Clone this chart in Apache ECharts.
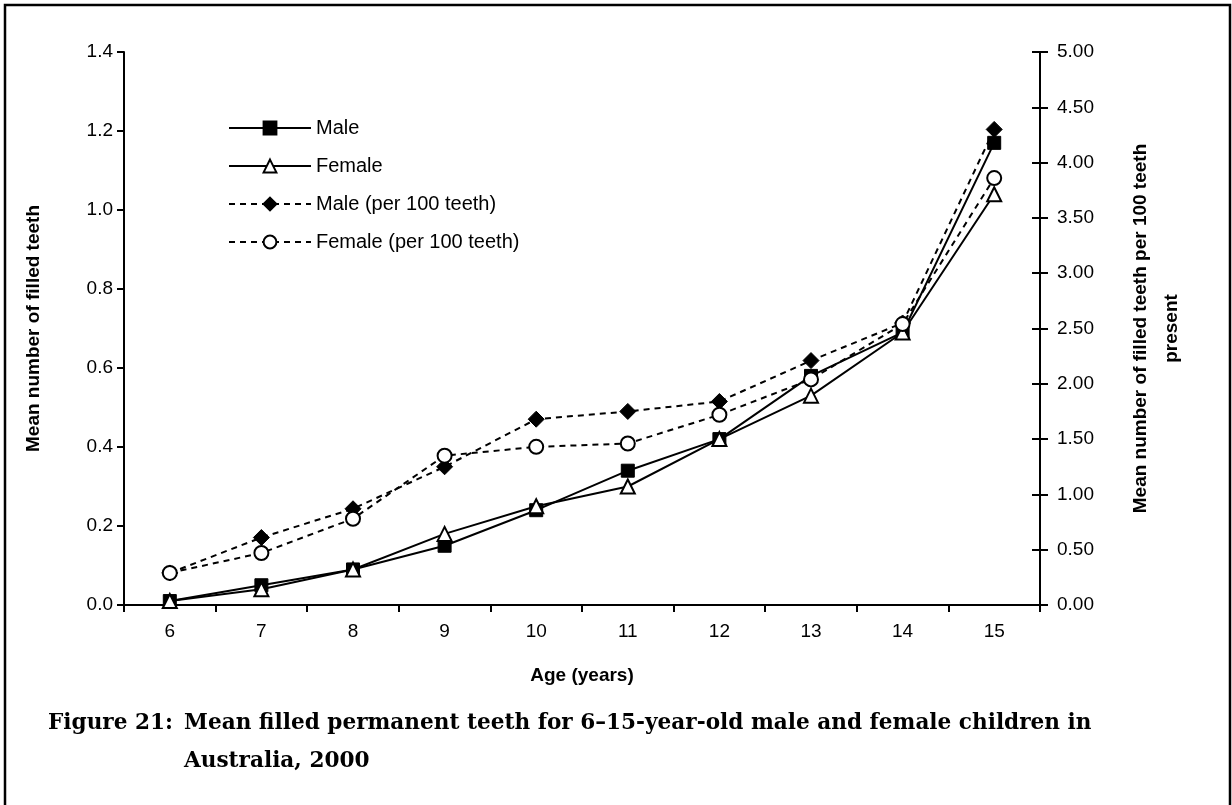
<!DOCTYPE html>
<html>
<head>
<meta charset="utf-8">
<script src="https://cdn.jsdelivr.net/npm/echarts@6/dist/echarts.min.js"></script>
<style>
  html, body { margin: 0; padding: 0; background: #fff; }
  #chart { width: 1232px; height: 805px; }
</style>
</head>
<body>
<div id="chart"></div>
<script>
// ages on the x axis
var ages = ['6', '7', '8', '9', '10', '11', '12', '13', '14', '15'];
// mean filled teeth (left axis)
var maleMean = [0.01, 0.05, 0.09, 0.15, 0.24, 0.34, 0.42, 0.58, 0.69, 1.17];
var femaleMean = [0.01, 0.04, 0.09, 0.18, 0.25, 0.30, 0.42, 0.53, 0.69, 1.04];
// mean filled teeth per 100 teeth present (right axis)
var malePer100 = [0.29, 0.61, 0.87, 1.25, 1.68, 1.75, 1.84, 2.21, 2.55, 4.30];
var femalePer100 = [0.29, 0.47, 0.78, 1.35, 1.43, 1.46, 1.72, 2.04, 2.54, 3.86];

var sans = '"Liberation Sans", Arial, sans-serif';
var serif = '"DejaVu Serif", serif';

var myChart = echarts.init(document.getElementById('chart'));
myChart.setOption({
  backgroundColor: '#fff',
  animation: false,
  grid: { left: 124, right: 192, top: 52, bottom: 200 },
  legend: {
    orient: 'vertical',
    left: 228,
    top: 118,
    padding: 0,
    itemWidth: 82,
    itemHeight: 16,
    itemGap: 18,
    textStyle: { fontFamily: sans, fontSize: 20, color: '#000' },
    data: ['Male', 'Female', 'Male (per 100 teeth)', 'Female (per 100 teeth)']
  },
  xAxis: {
    type: 'category',
    data: ages,
    boundaryGap: true,
    name: 'Age (years)',
    nameLocation: 'middle',
    nameGap: 61,
    nameTextStyle: { fontFamily: sans, fontSize: 19, fontWeight: 'bold', color: '#000' },
    axisLine: { lineStyle: { color: '#000', width: 2 } },
    axisTick: { show: true, length: 7, interval: 0, lineStyle: { color: '#000', width: 2 } },
    axisLabel: { fontFamily: sans, fontSize: 19, color: '#000', margin: 17 }
  },
  yAxis: [
    {
      type: 'value',
      min: 0, max: 1.4, interval: 0.2,
      name: 'Mean number of filled teeth',
      nameLocation: 'middle',
      nameRotate: 90,
      nameGap: 81,
      nameTextStyle: { fontFamily: sans, fontSize: 19, fontWeight: 'bold', color: '#000' },
      axisLine: { show: true, lineStyle: { color: '#000', width: 2 } },
      axisTick: { show: true, length: 7, lineStyle: { color: '#000', width: 2 } },
      axisLabel: { fontFamily: sans, fontSize: 19, color: '#000', margin: 11,
        formatter: function (v) { return v.toFixed(1); } },
      splitLine: { show: false }
    },
    {
      type: 'value',
      position: 'right',
      min: 0, max: 5, interval: 0.5,
      name: 'Mean number of filled teeth per 100 teeth\npresent',
      nameLocation: 'middle',
      nameRotate: 90,
      nameGap: 85,
      nameTextStyle: { fontFamily: sans, fontSize: 19, fontWeight: 'bold', color: '#000', lineHeight: 31, align: 'center' },
      axisLine: { show: true, lineStyle: { color: '#000', width: 2 } },
      axisTick: { show: true, length: 8, lineStyle: { color: '#000', width: 2 } },
      axisLabel: { fontFamily: sans, fontSize: 19, color: '#000', margin: 17,
        formatter: function (v) { return v.toFixed(2); } },
      splitLine: { show: false }
    },
    {
      // inner half of the crossing ticks on the right axis
      type: 'value',
      position: 'right',
      min: 0, max: 5, interval: 0.5,
      axisLine: { show: false },
      axisTick: { show: true, inside: true, length: 8, lineStyle: { color: '#000', width: 2 } },
      axisLabel: { show: false },
      splitLine: { show: false }
    }
  ],
  series: [
    {
      name: 'Male',
      type: 'line',
      yAxisIndex: 0,
      data: maleMean,
      symbol: 'rect',
      symbolSize: 13,
      lineStyle: { color: '#000', width: 2 },
      itemStyle: { color: '#000', borderColor: '#000', borderWidth: 1 }
    },
    {
      name: 'Female',
      type: 'line',
      yAxisIndex: 0,
      data: femaleMean,
      symbol: 'triangle',
      symbolSize: 14,
      lineStyle: { color: '#000', width: 2 },
      itemStyle: { color: '#fff', borderColor: '#000', borderWidth: 2 }
    },
    {
      name: 'Male (per 100 teeth)',
      type: 'line',
      yAxisIndex: 1,
      data: malePer100,
      symbol: 'diamond',
      symbolSize: 16,
      lineStyle: { color: '#000', width: 2, type: [6, 5] },
      itemStyle: { color: '#000', borderColor: '#000', borderWidth: 1 }
    },
    {
      name: 'Female (per 100 teeth)',
      type: 'line',
      yAxisIndex: 1,
      data: femalePer100,
      symbol: 'circle',
      symbolSize: 14,
      lineStyle: { color: '#000', width: 2, type: [6, 5] },
      itemStyle: { color: '#fff', borderColor: '#000', borderWidth: 2 }
    }
  ],
  graphic: [
    {
      type: 'rect',
      shape: { x: 5, y: 5, width: 1225, height: 840 },
      style: { fill: 'none', stroke: '#000', lineWidth: 2.5 },
      silent: true
    },
    {
      type: 'text',
      left: 48, top: 712,
      style: { text: 'Figure 21:', fontFamily: serif, fontSize: 21.6, fontWeight: 'bold', fill: '#000' }
    },
    {
      type: 'text',
      left: 184, top: 712,
      style: { text: 'Mean filled permanent teeth for 6\u201315-year-old male and female children in',
        fontFamily: serif, fontSize: 21.6, fontWeight: 'bold', fill: '#000' }
    },
    {
      type: 'text',
      left: 184, top: 750,
      style: { text: 'Australia, 2000', fontFamily: serif, fontSize: 21.6, fontWeight: 'bold', fill: '#000' }
    }
  ]
});
</script>
</body>
</html>
